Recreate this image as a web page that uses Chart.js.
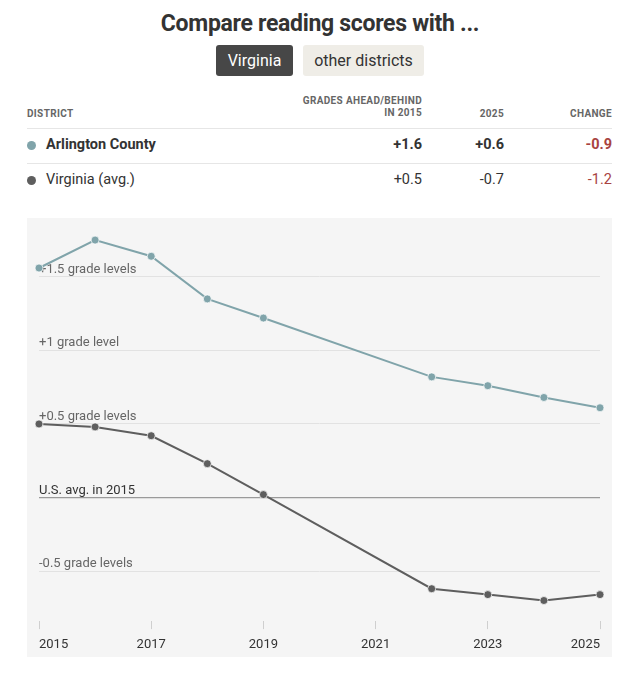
<!DOCTYPE html>
<html lang="en">
<head>
    <meta charset="UTF-8">
    <title>Compare reading scores</title>
    <script src="https://cdn.jsdelivr.net/npm/chart.js"></script>
    <style>
        body {
            margin: 0;
            width: 640px;
            height: 680px;
            background: #fff;
            font-family: 'Roboto', sans-serif;
            color: #333;
            position: relative;
        }
        h1 {
            position: absolute;
            left: 0; width: 640px; top: 10px;
            margin: 0;
            text-align: center;
            font-size: 23px;
            letter-spacing: -0.3px;
            font-weight: bold;
            color: #333;
        }
        .btn {
            position: absolute;
            top: 45px; height: 31px;
            line-height: 31px;
            text-align: center;
            font-size: 16px;
            border-radius: 3px;
        }
        .btn.on { left: 216px; width: 77px; background: #474747; color: #fff; }
        .btn.off { left: 303px; width: 121px; background: #efede7; color: #333; }
        .th {
            position: absolute;
            font-size: 10px;
            letter-spacing: 0.35px;
            color: #666;
            font-weight: bold;
            line-height: 12px;
            text-transform: uppercase;
            white-space: nowrap;
        }
        .rule { position: absolute; left: 27px; width: 585px; height: 1px; background: #e6e6e6; }
        .cell { position: absolute; font-size: 14.5px; line-height: 18px; white-space: nowrap; }
        .r { text-align: right; }
        .dot { position: absolute; width: 9px; height: 9px; border-radius: 50%; }
        .red { color: #a8433f; }
        #panel {
            position: absolute;
            left: 27px; top: 218px;
            width: 585px; height: 439px;
            background: #f5f5f5;
        }
        #wrap {
            position: absolute;
            left: 0; top: 0;
            width: 585px; height: 443px;
        }
    </style>
</head>
<body>
    <h1>Compare reading scores with ...</h1>
    <div class="btn on">Virginia</div>
    <div class="btn off">other districts</div>

    <div class="th" style="left:27px; top:108px;">District</div>
    <div class="th r" style="right:218px; top:95px;">Grades ahead/behind<br>in 2015</div>
    <div class="th r" style="right:136px; top:108px;">2025</div>
    <div class="th r" style="right:28px; top:108px;">Change</div>
    <div class="rule" style="top:128px;"></div>

    <div class="dot" style="left:27px; top:141px; background:#80a4aa;"></div>
    <div class="cell" style="left:46px; top:136px; font-weight:bold;">Arlington County</div>
    <div class="cell r" style="right:218px; top:136px; font-weight:bold;">+1.6</div>
    <div class="cell r" style="right:136px; top:136px; font-weight:bold;">+0.6</div>
    <div class="cell r red" style="right:28px; top:136px; font-weight:bold;">-0.9</div>
    <div class="rule" style="top:163px;"></div>

    <div class="dot" style="left:27px; top:176px; background:#5e5e5e;"></div>
    <div class="cell" style="left:46px; top:171px;">Virginia (avg.)</div>
    <div class="cell r" style="right:218px; top:171px;">+0.5</div>
    <div class="cell r" style="right:136px; top:171px;">-0.7</div>
    <div class="cell r red" style="right:28px; top:171px;">-1.2</div>

    <div id="panel">
        <div id="wrap"><canvas id="scoreChart"></canvas></div>
    </div>

    <script>
        // data (grade levels vs. U.S. avg. in 2015)
        const years = [2015, 2016, 2017, 2018, 2019, 2022, 2023, 2024, 2025];
        const arlington = [1.56, 1.75, 1.64, 1.35, 1.22, 0.82, 0.76, 0.68, 0.61];
        const virginia = [0.50, 0.48, 0.42, 0.23, 0.02, -0.62, -0.66, -0.70, -0.66];
        const xTicks = [2015, 2017, 2019, 2021, 2023, 2025];
        const yTicks = [-0.5, 0, 0.5, 1, 1.5];
        const yTickLabels = ['-0.5 grade levels', 'U.S. avg. in 2015', '+0.5 grade levels', '+1 grade level', '+1.5 grade levels'];

        const FONT = "'Roboto', sans-serif";
        const tealColor = '#80a4aa';
        const grayColor = '#5e5e5e';

        function toPoints(vals) {
            return years.map((y, i) => ({ x: y, y: vals[i] }));
        }

        // labels sitting just above each horizontal grid line
        const gridLabels = {
            id: 'gridLabels',
            beforeDatasetsDraw(chart) {
                const ctx = chart.ctx;
                const yScale = chart.scales.y;
                ctx.save();
                ctx.font = '13px ' + FONT;
                ctx.textAlign = 'left';
                ctx.textBaseline = 'alphabetic';
                yTicks.forEach((v, i) => {
                    ctx.fillStyle = v === 0 ? '#333' : '#666';
                    ctx.fillText(yTickLabels[i], chart.chartArea.left, yScale.getPixelForValue(v) - 4);
                });
                ctx.restore();
            }
        };

        let myChart;
        function initChart() {
            const ctx = document.getElementById('scoreChart').getContext('2d');
            myChart = new Chart(ctx, {
                type: 'line',
                data: {
                    datasets: [
                        {
                            label: 'Arlington County',
                            data: toPoints(arlington),
                            borderColor: tealColor,
                            backgroundColor: tealColor,
                            borderWidth: 2,
                            pointRadius: 4,
                            pointBorderColor: 'rgba(255,255,255,0.7)',
                            pointBorderWidth: 1,
                            clip: false
                        },
                        {
                            label: 'Virginia (avg.)',
                            data: toPoints(virginia),
                            borderColor: grayColor,
                            backgroundColor: grayColor,
                            borderWidth: 2,
                            pointRadius: 4,
                            pointBorderColor: 'rgba(255,255,255,0.7)',
                            pointBorderWidth: 1,
                            clip: false
                        }
                    ]
                },
                options: {
                    responsive: true,
                    maintainAspectRatio: false,
                    animation: false,
                    layout: {
                        autoPadding: false,
                        padding: { left: 12, right: 12, top: 0, bottom: 0 }
                    },
                    plugins: {
                        legend: { display: false },
                        tooltip: { enabled: false }
                    },
                    scales: {
                        x: {
                            type: 'linear',
                            min: 2015,
                            max: 2025,
                            afterBuildTicks: (s) => { s.ticks = xTicks.map(v => ({ value: v })); },
                            border: { display: false },
                            grid: {
                                drawOnChartArea: false,
                                drawTicks: true,
                                tickLength: 8,
                                color: '#cfcfcf'
                            },
                            ticks: {
                                align: 'inner',
                                padding: 8.15,
                                color: '#333',
                                font: { family: FONT, size: 13 },
                                callback: (v) => String(v)
                            }
                        },
                        y: {
                            min: -0.84,
                            max: 1.9,
                            afterBuildTicks: (s) => { s.ticks = yTicks.map(v => ({ value: v })); },
                            border: { display: false },
                            grid: {
                                drawTicks: false,
                                color: (c) => c.tick && c.tick.value === 0 ? '#9a9a9a' : '#e2e2e2',
                                lineWidth: (c) => c.tick && c.tick.value === 0 ? 1.3 : 1
                            },
                            ticks: { display: false }
                        }
                    }
                },
                plugins: [gridLabels]
            });
        }

        document.addEventListener('DOMContentLoaded', initChart);
    </script>
</body>
</html>
